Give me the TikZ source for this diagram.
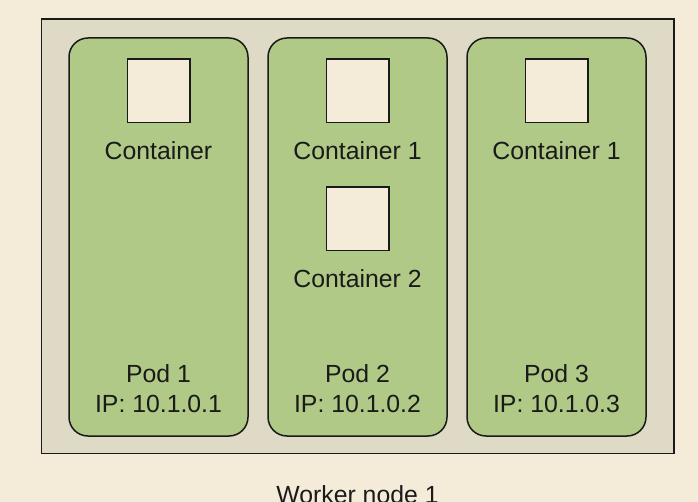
\documentclass[tikz,border=0pt]{standalone}
\usepackage{fontspec}
\setmainfont{Liberation Sans}
\definecolor{bgc}{HTML}{F4ECD9}
\definecolor{nodec}{HTML}{DEDAC6}
\definecolor{podc}{HTML}{B0C986}
\definecolor{boxc}{HTML}{F4ECD9}
\definecolor{linec}{HTML}{1A1A1A}
\begin{document}
\begin{tikzpicture}[x=1pt,y=-1pt,
  worker/.style={draw=linec,line width=1.5pt,fill=nodec},
  pod/.style={draw=linec,line width=1.5pt,fill=podc,rounded corners=19pt},
  ctr/.style={draw=linec,line width=1.5pt,fill=boxc},
  lbl/.style={anchor=base,inner sep=0pt,font=\fontsize{24.8}{29}\selectfont,text=linec}]
\fill[bgc] (0,0) rectangle (698,502);
\useasboundingbox (0,0) rectangle (698,502);
\draw[worker] (41.5,19) rectangle (674,453.5);
\node[lbl] (wn) at (357.5,503.5) {Worker node 1};
% pods
\draw[pod] (69,38) rectangle (248,436);
\draw[pod] (268,38) rectangle (447,436);
\draw[pod] (467,38) rectangle (646,436);
% containers
\draw[ctr] (127.5,59) rectangle (190,122.5);
\draw[ctr] (326.5,59) rectangle (389,122.5);
\draw[ctr] (326.5,187) rectangle (389,250.5);
\draw[ctr] (525.5,59) rectangle (588,122.5);
\node[lbl] (c1) at (158.5,160) {Container};
\node[lbl] (c21) at (357.5,160) {Container 1};
\node[lbl] (c22) at (357.5,288) {Container 2};
\node[lbl] (c31) at (556.5,160) {Container 1};
\node[lbl] (p1) at (158.5,382) {Pod 1};
\node[lbl] (p2) at (357.5,382) {Pod 2};
\node[lbl] (p3) at (556.5,382) {Pod 3};
\node[lbl] (i1) at (158.5,412.5) {IP: 10.1.0.1};
\node[lbl] (i2) at (357.5,412.5) {IP: 10.1.0.2};
\node[lbl] (i3) at (556.5,412.5) {IP: 10.1.0.3};
\end{tikzpicture}
\end{document}
